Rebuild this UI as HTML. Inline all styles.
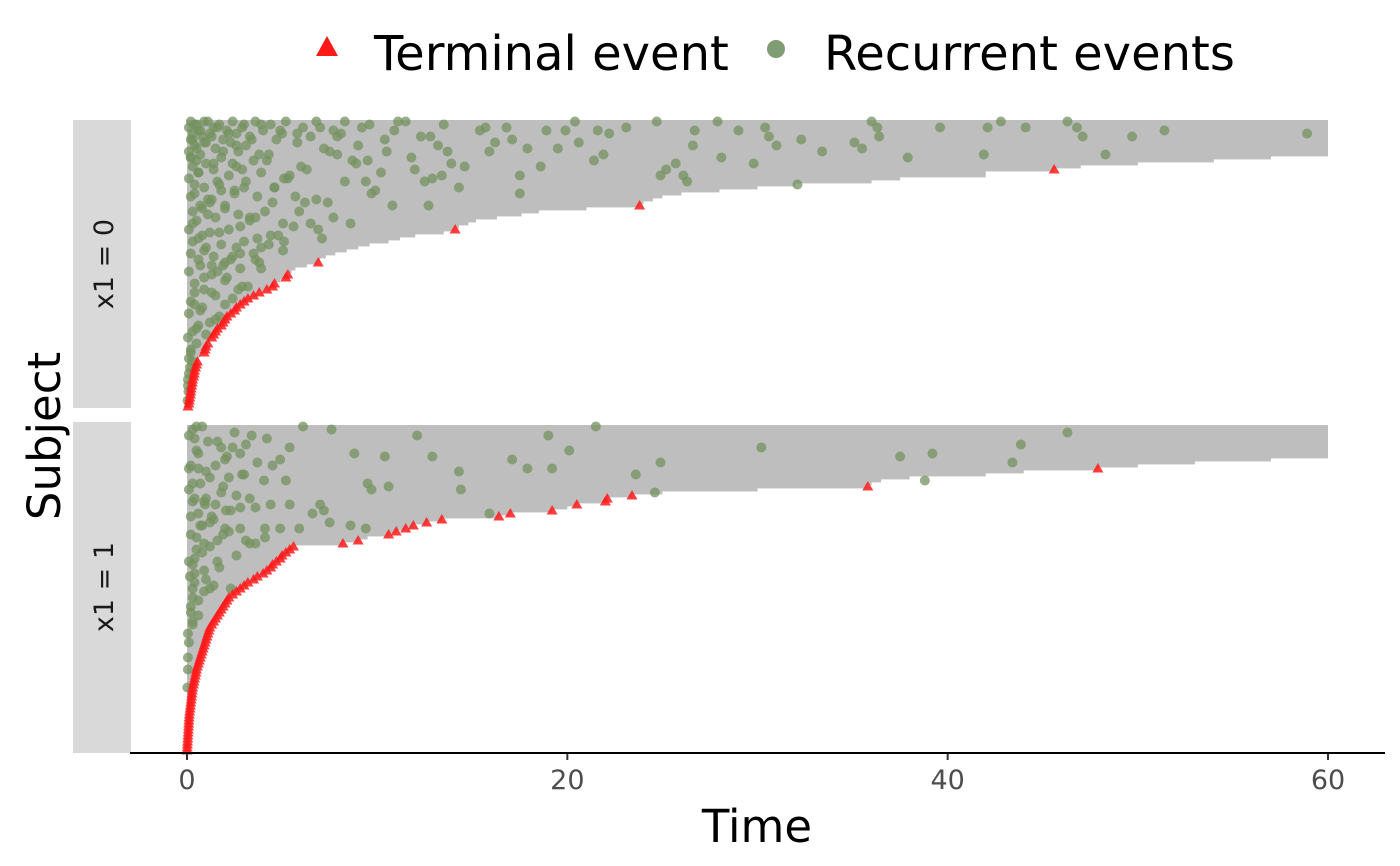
<!DOCTYPE html>
<html><head><meta charset="utf-8">
<style>
html,body{margin:0;padding:0;background:#fff;}
svg{display:block;font-family:"DejaVu Sans","Liberation Sans",sans-serif;}
</style></head>
<body>
<svg id="chart" width="1400" height="866" viewBox="0 0 1400 866">
<g>
  <polygon points="327,36 338,56 316,56" fill="#ff1a1a"/>
  <text x="374" y="70" font-size="48" fill="#000">Terminal event</text>
  <circle cx="776" cy="49" r="9" fill="#7f9c72"/>
  <text x="824" y="70" font-size="48" fill="#000">Recurrent events</text>
</g>
<rect x="73" y="120" width="58" height="288" fill="#d9d9d9"/>
<text transform="translate(113,264) rotate(-90)" text-anchor="middle" font-size="27" fill="#1a1a1a">x1 = 0</text>
<rect x="73" y="422" width="58" height="331" fill="#d9d9d9"/>
<text transform="translate(113,587) rotate(-90)" text-anchor="middle" font-size="27" fill="#1a1a1a">x1 = 1</text>
<text transform="translate(60,436) rotate(-90)" text-anchor="middle" font-size="45" fill="#000">Subject</text>
<text x="757" y="842" text-anchor="middle" font-size="45" fill="#000">Time</text>
<g id="p0"></g>
<g id="p1"></g>
<line x1="130" y1="753" x2="1385" y2="753" stroke="#000" stroke-width="2"/>
<g id="xaxis"></g>
</svg>
<script>
// ---- data ----
const xTicks = [0, 20, 40, 60];
// panel x1 = 0 : follow-up times (row 0 at top) and status (1 = terminal event)
const times0 = [60,60,60,60,60,60,60,60,60,60,60,60,57,54,50,47,45.6,42,42,37.5,36,32,30,28,26,25,24.5,24,23.8,21,18.5,17.6,16.3,15.2,14.8,14.3,14.1,13.5,12.0,11.2,10.6,9.6,9.0,8.4,7.8,7.3,7.0,6.9,6.3,5.7,5.5,5.3,5.2,4.9,4.6,4.5,4.2,3.8,3.5,3.2,3.0,2.8,2.6,2.5,2.3,2.1,2.0,1.9,1.8,1.6,1.5,1.4,1.3,1.2,1.1,1.0,0.95,0.9,0.7,0.6,0.55,0.5,0.45,0.4,0.38,0.35,0.3,0.28,0.25,0.22,0.2,0.18,0.15,0.12,0.1,0.05];
const status0 = [0,0,0,0,0,0,0,0,0,0,0,0,0,0,0,0,1,0,0,0,0,0,0,0,0,0,0,0,1,0,0,0,0,0,0,0,1,0,0,0,0,0,0,0,0,0,0,1,0,0,0,1,1,0,1,1,1,1,1,1,1,1,1,1,1,1,1,1,1,1,1,1,1,0,1,1,1,1,0,0,1,1,1,1,1,1,1,1,1,1,1,1,1,1,1,1];
const evRow0 = [4,3,5,11,5,2,0,0,2,2,11,2,12,2,0,5,9,7,10,21,6,8,5,2,14,3,12,0,3,8,20,18,14,16,18,0,2,4,11,3,7,0,3,3,15,9,18,24,6,2,10,2,22,14,10,18,5,28,16,0,3,10,13,23,20,8,13,20,5,2,27,39,34,25,34,43,41,32,39,15,23,27,47,51,56,61,69,77,82,88,56,61,66,49,47,55,
 0,0,0,0,0,0,0,1,1,1,1,1,2,2,2,2,3,3,3,3,4,4,4,4,5,5,5,6,6,6,7,7,7,8,8,9,9,10,10,11,11,12,12,13,13,14,14,15,15,16,17,17,18,19,19,20,21,22,22,24,25,26,27,28,29,30,31,32,33,35,36,37,38,40,42,44,45,46,48,50,52,53,57,58,60,63,64,67,70,72,74,76,79,80,84,86,90,93,
 0,1,1,2,3,3,4,4,5,6,6,7,8,9,10,11,12,13,14,16,17,19,20,21,22,23,24,25,26,27,28,29,30,31,32,33,34,35,36,37,38,39,40,41,42,43,44,45,46,48,49,50,52,54,55,57,59,62,65,68,71,0,2,4,6,8,10,12,14,16,18,20,22,24,26,28,30,32,34,36,38,40,42,44,46,48,1,3,5,7,9,11,13,15,17,19];
const evTime0 = [58.9,51.4,49.7,48.3,47.1,46.8,46.3,42.8,42.1,44.1,41.9,39.6,37.9,36.3,36.0,36.4,35.5,35.1,33.4,32.1,32.3,31.0,30.6,30.4,29.8,29.0,28.1,27.9,26.7,26.6,26.3,26.1,25.7,25.2,24.9,24.7,23.1,22.2,21.9,21.6,20.6,20.4,19.9,18.9,18.6,17.9,17.5,17.5,17.1,16.8,15.9,15.7,14.3,13.9,13.7,13.4,12.8,12.7,11.98,11.1,10.9,10.5,9.5,9.9,9.4,9.0,8.7,8.3,7.9,7.0,7.4,7.1,6.5,5.7,5.05,5.05,4.3,3.3,3.7,2.6,1.8,1.2,2.0,1.3,0.9,0.4,0.5,0.2,0.15,0.05,2.7,2.0,1.5,2.8,3.8,3.2,
 0.2,1.1,2.4,3.6,5.2,6.8,8.3,0.5,1.7,3.0,4.4,9.6,0.1,1.4,2.9,6.1,0.6,2.1,4.0,7.7,0.3,1.2,2.6,5.0,0.8,3.3,6.5,0.2,1.9,4.7,0.9,2.3,5.8,0.4,3.1,1.5,7.2,0.1,2.7,0.7,4.3,0.2,1.8,0.5,3.5,1.0,2.4,0.3,6.0,1.4,0.6,3.9,2.2,0.1,5.1,1.6,0.4,0.9,3.0,2.5,0.2,1.3,4.5,0.7,2.0,0.3,1.1,3.6,0.5,2.8,0.1,1.7,0.8,0.3,1.0,0.2,2.4,0.6,1.3,0.1,0.9,2.0,0.4,1.5,0.2,0.7,0.1,1.2,0.3,0.05,0.5,0.2,0.1,0.3,0.1,0.05,0.08,0.03,
 0.9,0.4,3.9,1.6,0.7,4.9,2.2,5.8,1.3,0.3,3.4,1.0,2.6,0.5,1.9,3.8,0.2,4.2,1.4,2.9,0.6,5.3,3.1,1.7,4.6,2.5,0.4,3.7,1.1,6.2,2.0,0.8,4.1,2.7,1.5,3.3,0.3,5.6,2.2,1.2,4.4,0.6,3.0,1.8,2.6,0.9,3.5,1.4,2.3,0.7,3.9,1.6,2.1,0.4,2.9,1.3,2.4,0.8,1.7,0.6,1.0,11.5,9.2,8.1,10.4,13.2,7.5,11.8,8.9,6.3,5.4,12.5,4.6,9.7,6.8,10.8,5.9,7.7,8.6,6.9,4.8,5.1,3.9,2.8,3.6,1.9,13.5,15.4,12.3,16.2,19.5,7.9,21.4,14.6,10.2,12.9];
// panel x1 = 1
const times1 = [60,60,60,60,60,60,60,60,60,60,60,57,53,50,47.9,44,42,38,36.5,36,35.8,30,25,23.4,22.1,22.0,20.5,20,19.2,17.0,16.4,13.4,12.6,11.9,11.5,11.0,10.6,9.5,9.0,8.2,5.6,5.4,5.2,5.0,4.9,4.7,4.5,4.4,4.2,4.0,3.7,3.5,3.2,3.0,2.8,2.6,2.4,2.2,2.1,2.0,1.9,1.8,1.7,1.6,1.5,1.4,1.3,1.2,1.15,1.1,1.05,1.0,0.95,0.9,0.85,0.8,0.75,0.7,0.65,0.6,0.55,0.5,0.47,0.44,0.4,0.37,0.34,0.3,0.28,0.26,0.24,0.22,0.2,0.18,0.16,0.14,0.12,0.11,0.1,0.09,0.08,0.07,0.06,0.05,0.04,0.03,0.02,0.01,0.005];
const status1 = [0,0,0,0,0,0,0,0,0,0,0,0,0,0,1,0,0,0,0,0,1,0,0,1,1,1,1,0,1,1,1,1,1,1,1,1,1,0,1,1,1,1,1,1,1,1,1,1,1,1,1,1,1,1,1,1,1,1,1,1,1,1,1,1,1,1,1,1,1,1,1,1,1,1,1,1,1,1,1,1,1,1,1,1,1,1,1,1,1,1,1,1,1,1,1,1,1,1,1,1,1,1,1,1,1,1,1,1,1];
const evRow1 = [2,6,12,9,10,18,7,12,22,16,0,8,14,3,14,11,29,21,15,10,3,10,20,21,19,34,9,1,28,0,7,4,13,18,17,27,28,7,17,0,0,4,14,14,24,29,50,57,69,77,87,39,44,54,54,54,47,34,39,34,34,34,26,32,34,32,26,24,26,26,9,12,11,28,26,
 1,2,3,5,6,8,11,13,15,16,19,20,21,23,25,30,33,36,38,41,45,48,52,60,63,66,72,81,
 5,7,9,13,16,19,22,25,27,30,31,33,35,36,37,38,40,42,43,45,46,49,51,53,55,58,62,65,3,10,18,24,29,33,37,39];
const evTime1 = [46.3,43.85,43.4,39.2,37.5,38.8,30.2,24.9,24.6,23.6,21.5,20.1,19.2,19.0,17.9,17.1,15.9,14.4,14.3,12.9,12.1,10.4,10.6,9.7,9.5,9.4,8.8,7.6,7.2,6.1,5.4,4.2,4.5,4.05,2.2,2.8,2.05,1.8,1.2,0.5,0.8,0.4,0.6,0.1,0.4,0.6,0.15,0.3,0.05,0.05,0.02,0.9,0.4,0.3,1.2,2.3,1.7,2.8,3.3,4.1,4.9,5.9,7.0,7.5,2.0,1.2,0.95,3.3,4.4,5.4,2.8,3.7,4.9,2.3,1.5,
 0.3,2.5,0.1,1.6,3.1,0.5,2.0,0.2,1.0,3.0,0.7,1.9,0.1,2.6,0.3,1.3,0.8,0.2,1.6,0.5,0.1,0.9,0.4,0.2,0.6,0.3,0.1,0.05,
 1.1,2.4,0.6,1.5,2.9,0.3,1.8,0.9,3.6,0.2,1.4,0.7,2.2,1.9,0.5,3.1,1.2,0.8,2.6,1.6,0.3,0.4,1.0,1.4,0.9,0.6,0.2,0.3,3.4,2.1,5.2,1.0,6.6,8.6,4.1,3.6];

// ---- scales ----
const X0 = 187, X60 = 1328;
function xScale(t){ return X0 + (t/60)*(X60-X0); }
const ROW = 3;
const NS = 'http://www.w3.org/2000/svg';
function mk(tag, attrs, parent){
  const e = document.createElementNS(NS, tag);
  for (const k in attrs) e.setAttribute(k, attrs[k]);
  parent.appendChild(e); return e;
}
function drawPanel(g, top, times, status, evRow, evTime){
  const rowY = i => top + ROW*i + ROW/2;
  times.forEach((t,i)=>{
    const r = mk('rect',{x:xScale(0), y:top+ROW*i, width:Math.max(0.5,xScale(t)-xScale(0)), height:ROW+0.4, fill:'#bebebe'}, g);
    
    
  });
  evRow.forEach((row,k)=>{
    const c = mk('circle',{cx:xScale(evTime[k]), cy:rowY(row), r:5, fill:'#74925f', 'fill-opacity':0.75}, g);
    
    
  });
  times.forEach((t,i)=>{
    if (!status[i]) return;
    const x = xScale(t), y = rowY(i);
    const p = mk('polygon',{points:`${x},${y-5.5} ${x+5.5},${y+4} ${x-5.5},${y+4}`, fill:'#ff1a1a', 'fill-opacity':0.85}, g);
    
    
  });
}
drawPanel(document.getElementById('p0'), 120, times0, status0, evRow0, evTime0);
drawPanel(document.getElementById('p1'), 425, times1, status1, evRow1, evTime1);

const xa = document.getElementById('xaxis');
xTicks.forEach(v=>{
  const x = xScale(v);
  const l = mk('line',{x1:x, y1:754, x2:x, y2:760, stroke:'#333', 'stroke-width':2}, xa);
  
  
  const t = mk('text',{x:x, y:789, 'text-anchor':'middle', 'font-size':27, fill:'#4d4d4d'}, xa);
  t.textContent = v;
  
  
});
</script>
</body></html>
